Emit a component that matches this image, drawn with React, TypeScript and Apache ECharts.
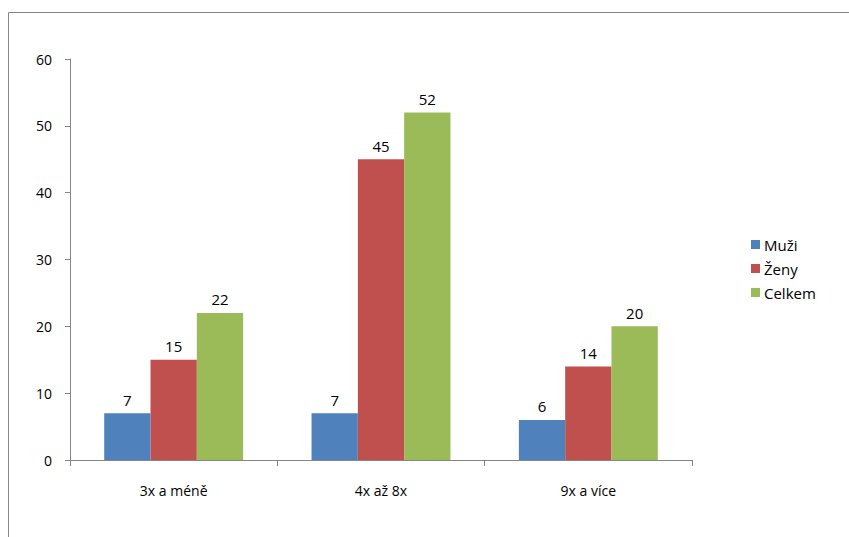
import React, { useEffect, useRef } from "react";
import * as echarts from "echarts";

const categories = ["3x a méně", "4x až 8x", "9x a více"];
const muzi = [7, 7, 6];
const zeny = [15, 45, 14];
const celkem = [22, 52, 20];
const seriesNames = ["Muži", "Ženy", "Celkem"];
const colors = ["#4F81BD", "#C0504D", "#9BBB59"];

export default function App() {
  const ref = useRef<HTMLDivElement>(null);
  useEffect(() => {
    if (!ref.current) return;
    const chart = echarts.init(ref.current, undefined, { renderer: "svg" });
    const font = "'Open Sans', 'Liberation Sans', sans-serif";
    const values = [muzi, zeny, celkem];
    chart.setOption({
      animation: false,
      textStyle: { fontFamily: font },
      graphic: [
        {
          type: "rect",
          shape: { x: 8.5, y: 12.5, width: 1000, height: 1000 },
          style: { fill: "none", stroke: "#868686", lineWidth: 1 },
          silent: true,
        },
      ],
      grid: { left: 70, right: 157, top: 59, bottom: 77 },
      legend: {
        orient: "vertical",
        left: 746,
        top: 232,
        itemWidth: 9,
        itemHeight: 9,
        itemGap: 9,
        icon: "rect",
        textStyle: { fontSize: 15, color: "#000", fontFamily: font, padding: [0, 0, 0, -1] },
        data: seriesNames,
      },
      xAxis: {
        type: "category",
        data: categories,
        axisLine: { lineStyle: { color: "#868686" } },
        axisTick: { show: true, length: 6, interval: 0, lineStyle: { color: "#868686" } },
        axisLabel: { fontSize: 14, color: "#000", margin: 23, fontFamily: font },
      },
      yAxis: {
        type: "value",
        min: 0,
        max: 60,
        interval: 10,
        splitLine: { show: false },
        axisLine: { show: true, lineStyle: { color: "#868686" } },
        axisTick: { show: true, length: 5, lineStyle: { color: "#868686" } },
        axisLabel: { fontSize: 14, color: "#000", margin: 18, fontFamily: font },
      },
      series: seriesNames.map((name, i) => ({
        name,
        type: "bar",
        data: values[i],
        barGap: "0%",
        barCategoryGap: "33%",
        itemStyle: { color: colors[i] },
        label: {
          show: true,
          position: "top",
          distance: 6,
          fontSize: 15,
          color: "#000",
          fontFamily: font,
        },
      })),
    });
    return () => chart.dispose();
  }, []);
  return (
    <div
      ref={ref}
      style={{ position: "fixed", left: 0, top: 0, width: 849, height: 537, background: "#fff" }}
    />
  );
}
